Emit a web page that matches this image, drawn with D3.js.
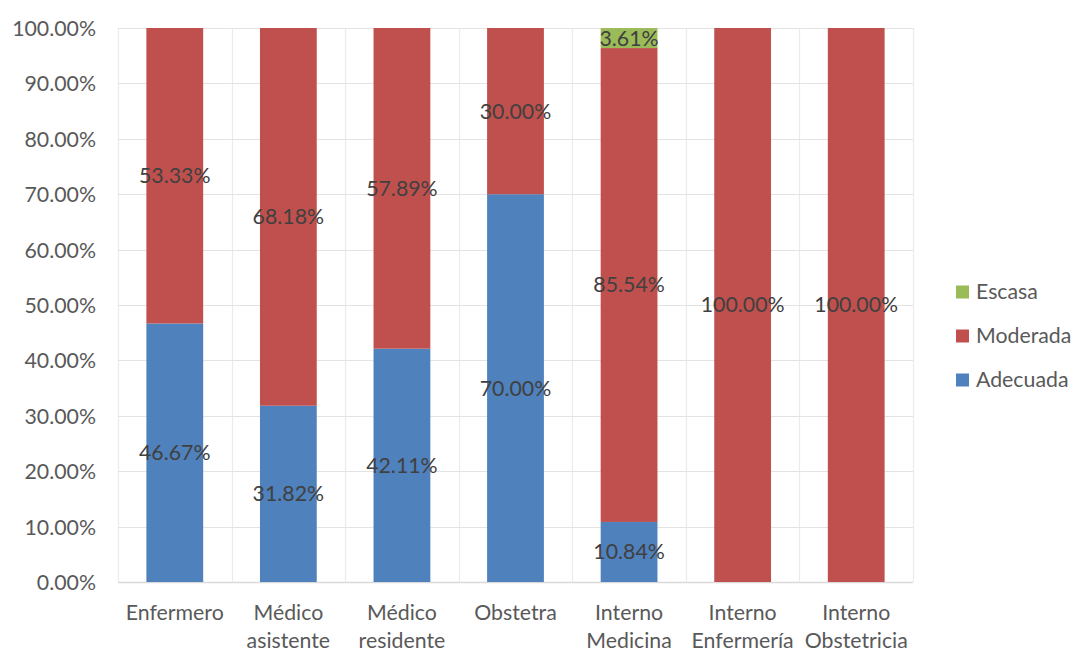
<!DOCTYPE html>
<html>
<head>
<meta charset="utf-8">
<script src="https://cdn.jsdelivr.net/npm/d3@7"></script>
<style>
  html, body { margin: 0; padding: 0; background: #fff; }
  svg { display: block; font-family: Lato, "Open Sans", sans-serif; }
</style>
</head>
<body>
<svg id="chart" width="1077" height="653"></svg>
<script>
// Categories (multi-line labels split by "\n")
const categories = ["Enfermero", "Médico\nasistente", "Médico\nresidente", "Obstetra", "Interno\nMedicina", "Interno\nEnfermería", "Interno\nObstetricia"];
// Series values in percent
const adecuada = [46.67, 31.82, 42.11, 70.00, 10.84, 0, 0];
const moderada = [53.33, 68.18, 57.89, 30.00, 85.54, 100.00, 100.00];
const escasa   = [0, 0, 0, 0, 3.61, 0, 0];
const seriesNames = ["Adecuada", "Moderada", "Escasa"];
const seriesColors = ["#4F81BD", "#C0504D", "#9BBB59"];
const yTicks = [0, 10, 20, 30, 40, 50, 60, 70, 80, 90, 100];

const FONT = 21.3;
const svg = d3.select("#chart");
const margin = { left: 118, right: 164, top: 28, bottom: 71 };
const W = 1077, H = 653;

const rows = categories.map((c, i) => ({ cat: c, Adecuada: adecuada[i], Moderada: moderada[i], Escasa: escasa[i] }));
const stacked = d3.stack().keys(seriesNames)(rows);

const x = d3.scaleBand().domain(categories).range([margin.left, W - margin.right]).paddingInner(0.5).paddingOuter(0.25);
const y = d3.scaleLinear().domain([0, 100]).range([H - margin.bottom, margin.top]);

// band boundaries for vertical gridlines
const step = x.step();
const bounds = d3.range(categories.length + 1).map(i => margin.left + i * step);

const grid = svg.append("g");
grid.selectAll("line.v").data(bounds).join("line")
  .attr("x1", d => Math.round(d) + 0.5).attr("x2", d => Math.round(d) + 0.5)
  .attr("y1", y(100)).attr("y2", y(0))
  .attr("stroke", "#ebebeb").attr("stroke-width", 1.2);
grid.selectAll("line.h").data(yTicks).join("line")
  .attr("x1", margin.left).attr("x2", W - margin.right)
  .attr("y1", d => Math.round(y(d)) + 0.5).attr("y2", d => Math.round(y(d)) + 0.5)
  .attr("stroke", d => d === 0 ? "#d9d9d9" : "#e3e3e3").attr("stroke-width", d => d === 0 ? 1.5 : 1.2);

// y axis labels
const yAxis = d3.axisLeft(y).tickValues(yTicks).tickFormat(d => d.toFixed(2) + "%").tickSize(0).tickPadding(0);
svg.append("g").attr("transform", `translate(96,0)`).call(yAxis)
  .call(g => g.select(".domain").remove())
  .call(g => g.selectAll("text").attr("fill", "#595959").attr("font-size", FONT).attr("font-family", "Lato, sans-serif").attr("dy", "0.35em"));

// bars
const layers = svg.append("g").selectAll("g").data(stacked).join("g")
  .attr("fill", (d, i) => seriesColors[i]);
layers.selectAll("rect").data(d => d.map(v => ({ v, key: d.key }))).join("rect")
  .attr("x", d => x(d.v.data.cat))
  .attr("width", x.bandwidth())
  .attr("y", d => y(d.v[1]))
  .attr("height", d => y(d.v[0]) - y(d.v[1]));

// data labels
const labels = svg.append("g");
stacked.forEach(layer => {
  layer.forEach(v => {
    const val = v[1] - v[0];
    if (val <= 0) return;
    labels.append("text")
      .attr("x", x(v.data.cat) + x.bandwidth() / 2)
      .attr("y", y((v[0] + v[1]) / 2))
      .attr("dy", "0.35em")
      .attr("text-anchor", "middle")
      .attr("fill", "#404040")
      .attr("font-size", FONT)
      .text(val.toFixed(2) + "%");
  });
});

// category labels
const xLab = svg.append("g");
categories.forEach(c => {
  const t = xLab.append("text")
    .attr("x", x(c) + x.bandwidth() / 2)
    .attr("y", 620)
    .attr("text-anchor", "middle")
    .attr("fill", "#595959")
    .attr("font-size", FONT);
  c.split("\n").forEach((line, j) => {
    t.append("tspan").attr("x", x(c) + x.bandwidth() / 2).attr("dy", j === 0 ? 0 : 28).text(line);
  });
});

// legend (top to bottom: Escasa, Moderada, Adecuada)
const legendOrder = [2, 1, 0];
const lg = svg.append("g");
legendOrder.forEach((si, k) => {
  const cy = 292 + k * 44;
  lg.append("rect").attr("x", 956).attr("y", cy - 6.5).attr("width", 13).attr("height", 13).attr("fill", seriesColors[si]);
  lg.append("text").attr("x", 976).attr("y", cy).attr("dy", "0.35em")
    .attr("fill", "#595959").attr("font-size", FONT).text(seriesNames[si]);
});
</script>
</body>
</html>
